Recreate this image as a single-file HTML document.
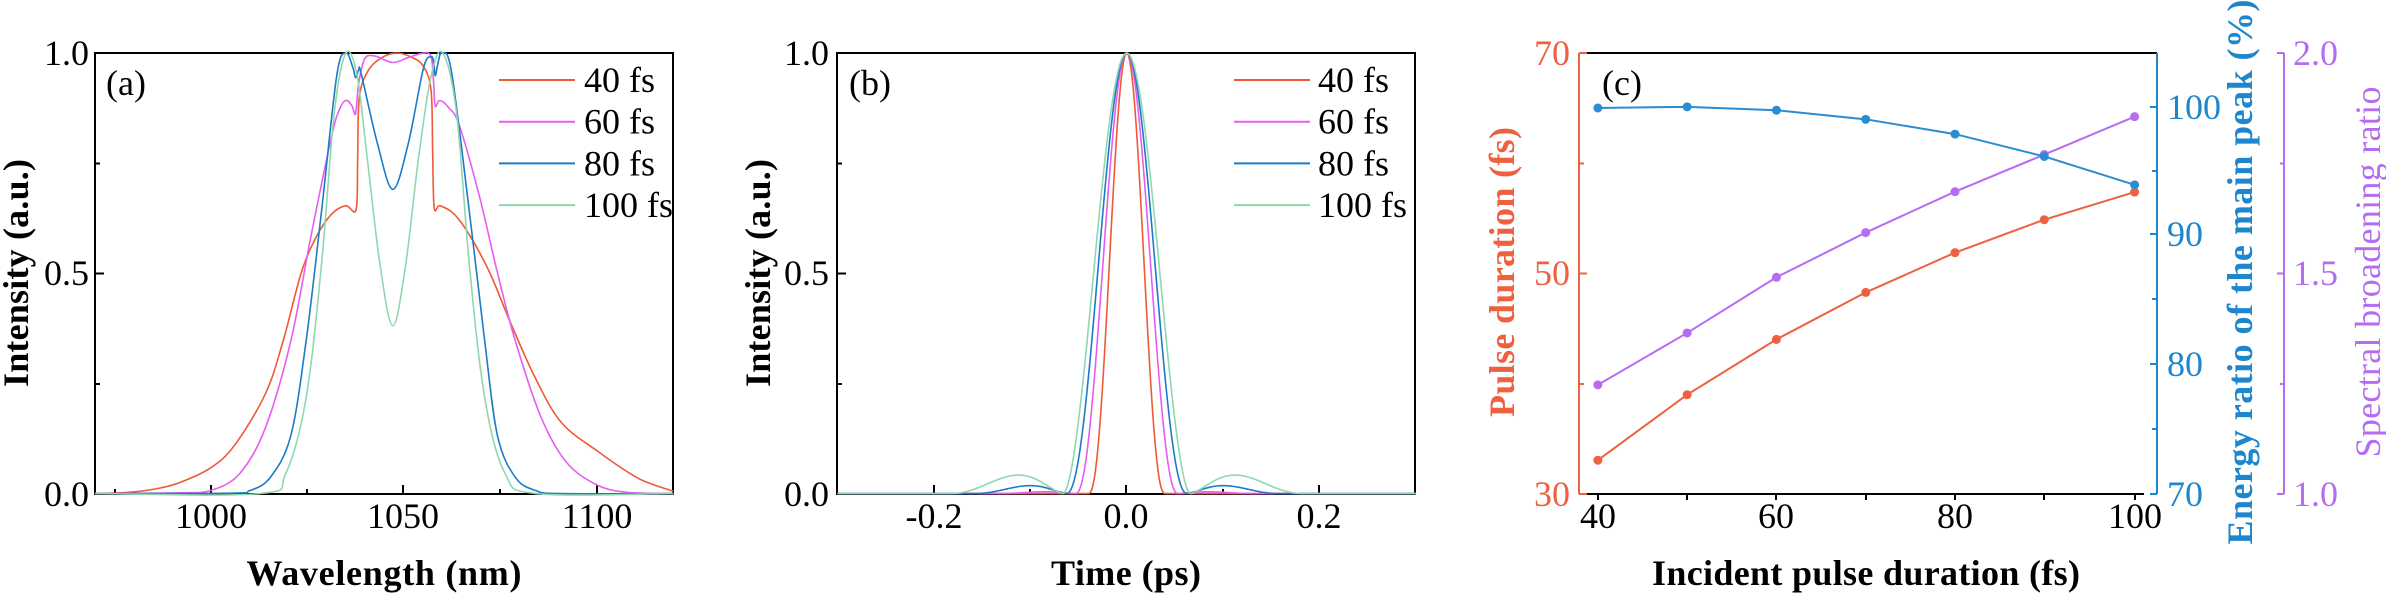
<!DOCTYPE html>
<html><head><meta charset="utf-8"><style>
html,body{margin:0;padding:0;background:#fff}
svg{display:block}
text{font-family:"Liberation Serif",serif}
</style></head><body>
<svg id="s" width="2386" height="594" viewBox="0 0 2386 594" xmlns="http://www.w3.org/2000/svg">
<g font-size="36" fill="#000">
<!-- Panel a -->
<rect x="95" y="53" width="578" height="441" fill="none" stroke="#000" stroke-width="2"/>
<g stroke="#000" stroke-width="2">
<line x1="211" y1="494" x2="211" y2="485"/><line x1="403" y1="494" x2="403" y2="485"/><line x1="597" y1="494" x2="597" y2="485"/>
<line x1="115" y1="494" x2="115" y2="489"/><line x1="307" y1="494" x2="307" y2="489"/><line x1="500" y1="494" x2="500" y2="489"/>
<line x1="95" y1="273.5" x2="104" y2="273.5"/><line x1="95" y1="163.5" x2="100" y2="163.5"/><line x1="95" y1="384" x2="100" y2="384"/>
</g>
<text x="89" y="65" text-anchor="end">1.0</text><text x="89" y="285" text-anchor="end">0.5</text><text x="89" y="506" text-anchor="end">0.0</text>
<text x="211" y="528" text-anchor="middle">1000</text><text x="403" y="528" text-anchor="middle">1050</text><text x="597" y="528" text-anchor="middle">1100</text>
<text x="384" y="585" text-anchor="middle" font-weight="bold" textLength="275">Wavelength (nm)</text>
<text transform="translate(28,273) rotate(-90)" text-anchor="middle" font-weight="bold" textLength="228">Intensity (a.u.)</text>
<text x="106" y="95">(a)</text>
<g id="la"></g>
<!-- Panel b -->
<rect x="837" y="53" width="578" height="441" fill="none" stroke="#000" stroke-width="2"/>
<g stroke="#000" stroke-width="2">
<line x1="934" y1="494" x2="934" y2="485"/><line x1="1126" y1="494" x2="1126" y2="485"/><line x1="1319" y1="494" x2="1319" y2="485"/>
<line x1="1030" y1="494" x2="1030" y2="489"/><line x1="1223" y1="494" x2="1223" y2="489"/>
<line x1="837" y1="273.5" x2="846" y2="273.5"/><line x1="837" y1="163.5" x2="842" y2="163.5"/><line x1="837" y1="384" x2="842" y2="384"/>
</g>
<text x="829" y="65" text-anchor="end">1.0</text><text x="829" y="285" text-anchor="end">0.5</text><text x="829" y="506" text-anchor="end">0.0</text>
<text x="934" y="528" text-anchor="middle">-0.2</text><text x="1126" y="528" text-anchor="middle">0.0</text><text x="1319" y="528" text-anchor="middle">0.2</text>
<text x="1126" y="585" text-anchor="middle" font-weight="bold" textLength="150">Time (ps)</text>
<text transform="translate(770,273) rotate(-90)" text-anchor="middle" font-weight="bold" textLength="228">Intensity (a.u.)</text>
<text x="849" y="95">(b)</text>
<g id="lb"></g>
<!-- Panel c -->
<line x1="1579" y1="53" x2="2157" y2="53" stroke="#000" stroke-width="2"/>
<line x1="1587" y1="494" x2="2144" y2="494" stroke="#000" stroke-width="2"/>
<g stroke="#000" stroke-width="2">
<line x1="1598" y1="494" x2="1598" y2="500"/><line x1="1687" y1="494" x2="1687" y2="500"/><line x1="1776" y1="494" x2="1776" y2="500"/>
<line x1="1866" y1="494" x2="1866" y2="500"/><line x1="1955" y1="494" x2="1955" y2="500"/><line x1="2044" y1="494" x2="2044" y2="500"/><line x1="2135" y1="494" x2="2135" y2="500"/>
</g>
<g stroke="#EE6040" stroke-width="2">
<line x1="1579" y1="53" x2="1579" y2="494"/>
<line x1="1579" y1="53" x2="1587" y2="53"/><line x1="1579" y1="273.5" x2="1587" y2="273.5"/><line x1="1579" y1="494" x2="1587" y2="494"/>
<line x1="1579" y1="163.5" x2="1584" y2="163.5"/><line x1="1579" y1="384" x2="1584" y2="384"/>
</g>
<g fill="#EE6040">
<text x="1570" y="65" text-anchor="end">70</text><text x="1570" y="285" text-anchor="end">50</text><text x="1570" y="506" text-anchor="end">30</text>
<text transform="translate(1514,272) rotate(-90)" text-anchor="middle" font-weight="bold" textLength="290">Pulse duration (fs)</text>
</g>
<g stroke="#1E86CC" stroke-width="2">
<line x1="2157" y1="53" x2="2157" y2="494"/>
<line x1="2150" y1="107" x2="2157" y2="107"/><line x1="2150" y1="234" x2="2157" y2="234"/><line x1="2150" y1="364" x2="2157" y2="364"/><line x1="2150" y1="494" x2="2157" y2="494"/>
<line x1="2152" y1="171" x2="2157" y2="171"/><line x1="2152" y1="299" x2="2157" y2="299"/><line x1="2152" y1="429" x2="2157" y2="429"/>
</g>
<g fill="#1E86CC">
<text x="2167" y="119">100</text><text x="2167" y="246">90</text><text x="2167" y="376">80</text>
<text x="2167" y="506">70</text>
<text transform="translate(2252,272) rotate(-90)" text-anchor="middle" font-weight="bold" textLength="545">Energy ratio of the main peak (%)</text>
</g>
<g stroke="#B56CF2" stroke-width="2">
<line x1="2284" y1="53" x2="2284" y2="494"/>
<line x1="2277" y1="53" x2="2284" y2="53"/><line x1="2277" y1="273.5" x2="2284" y2="273.5"/><line x1="2277" y1="494" x2="2284" y2="494"/>
<line x1="2280" y1="163.5" x2="2284" y2="163.5"/><line x1="2280" y1="384" x2="2284" y2="384"/>
</g>
<g fill="#B56CF2">
<text x="2293" y="65">2.0</text><text x="2293" y="285">1.5</text><text x="2293" y="506">1.0</text>
<text transform="translate(2380,272) rotate(-90)" text-anchor="middle" textLength="371">Spectral broadening ratio</text>
</g>
<text x="1598" y="528" text-anchor="middle">40</text><text x="1776" y="528" text-anchor="middle">60</text><text x="1955" y="528" text-anchor="middle">80</text><text x="2135" y="528" text-anchor="middle">100</text>
<text x="1866" y="585" text-anchor="middle" font-weight="bold" textLength="428">Incident pulse duration (fs)</text>
<text x="1602" y="95">(c)</text>
<g id="lc"></g>
</g>
</svg>
<script>
var NS="http://www.w3.org/2000/svg";
var C=["#EE5A34","#E85CF2","#1C7BC8","#8ED8AE"];
function cr(p){var d="M"+p[0][0]+","+p[0][1];for(var i=0;i<p.length-1;i++){var a=p[i-1]||p[i],b=p[i],c=p[i+1],e=p[i+2]||c;
d+=" C"+(b[0]+(c[0]-a[0])/6)+","+(b[1]+(c[1]-a[1])/6)+" "+(c[0]-(e[0]-b[0])/6)+","+(c[1]-(e[1]-b[1])/6)+" "+c[0]+","+c[1];}return d;}
function path(g,d,col,ox,w){var p=document.createElementNS(NS,"path");p.setAttribute("d",d);p.setAttribute("fill","none");p.setAttribute("stroke",col);
p.setAttribute("stroke-width",w||1.6);p.setAttribute("vector-effect","non-scaling-stroke");p.setAttribute("stroke-linejoin","round");g.appendChild(p);}
function grp(id,ox){var g=document.createElementNS(NS,"g");g.setAttribute("transform","translate("+ox+",0) scale("+(1/1.96)+","+(1/2.64)+")");document.getElementById(id).appendChild(g);return g;}
var A=[
[[186,1303],[250,1300],[300,1292],[350,1275],[413,1235],[460,1175],[520,1040],[555,900],[590,722],[620,625],[650,565],[678,543],[698,553],[701,420],[704,260],[720,190],[745,155],[775,140],[805,150],[830,175],[845,240],[848,400],[851,548],[862,543],[890,565],[920,620],[960,720],[1000,850],[1050,1000],[1100,1115],[1170,1190],[1250,1262],[1320,1297]],
[[186,1303],[350,1301],[413,1295],[470,1250],[520,1130],[570,900],[610,620],[650,360],[665,290],[678,265],[690,280],[697,300],[703,220],[715,155],[735,148],[770,165],[800,152],[830,140],[845,150],[850,220],[853,280],[862,265],[880,285],[900,330],[940,520],[975,720],[1010,900],[1060,1100],[1110,1220],[1170,1280],[1230,1300],[1320,1303]],
[[186,1303],[450,1302],[490,1295],[530,1260],[570,1150],[600,900],[630,560],[660,200],[678,140],[692,180],[697,205],[703,185],[708,195],[740,380],[770,500],[800,380],[830,180],[845,150],[850,165],[853,200],[858,170],[866,140],[885,190],[920,560],[950,900],[975,1150],[1010,1260],[1050,1295],[1100,1303],[1320,1303]],
[[186,1303],[510,1303],[560,1250],[600,1050],[630,700],[655,300],[678,140],[700,200],[720,420],[745,700],[770,860],[795,700],[820,420],[845,200],[868,140],[895,300],[920,700],[950,1050],[990,1250],[1050,1303],[1320,1303]]];
var ga=grp("la",0);A.forEach(function(p,i){path(ga,cr(p),C[i]);});
var P=[[35,75,0,0],[48,100,0.004,150],[57,118,0.018,180],[65,125,0.042,220]];
var gb=grp("lb",790);
P.forEach(function(q,i){var h=q[0],z=q[1],a=q[2],L=q[3];var n=Math.log(0.5)/Math.log(Math.cos(Math.PI*h/(2*z)));var pts=[];
for(var u=-567;u<=567;u+=2){var au=Math.abs(u),v=0;if(au<z)v=Math.pow(Math.cos(Math.PI*au/(2*z)),n);else if(a>0&&au<z+L){var t=(au-z)/L;v=a*Math.pow(Math.sin(Math.PI*Math.pow(t,0.75)),2);}
pts.push((660+u)+","+(1303-v*1163).toFixed(1));}
path(gb,"M"+pts.join(" L"),C[i]);});
[["la",499,584],["lb",1234,1318]].forEach(function(L){var g=document.getElementById(L[0]);["40 fs","60 fs","80 fs","100 fs"].forEach(function(s,i){var y=80+i*41.7;
var l=document.createElementNS(NS,"line");l.setAttribute("x1",L[1]);l.setAttribute("x2",L[1]+76);l.setAttribute("y1",y);l.setAttribute("y2",y);l.setAttribute("stroke",C[i]);l.setAttribute("stroke-width",2);g.appendChild(l);
var t=document.createElementNS(NS,"text");t.setAttribute("x",L[2]);t.setAttribute("y",y+12);t.textContent=s;g.appendChild(t);});});
var xs=[35,210,385,560,735,910,1087];
var D=[["#EE6040",[1215,1042,896,772,667,580,507]],["#B56CF2",[1016,879,732,614,506,408,308]],["#2A8DD4",[285,282,291,315,354,413,488]]];
var gc=document.getElementById("lc");
D.forEach(function(d){var pts=xs.map(function(x,i){return [1580+x/1.96,d[1][i]/2.64];});
var pl=document.createElementNS(NS,"polyline");pl.setAttribute("points",pts.map(function(p){return p.join(",")}).join(" "));pl.setAttribute("fill","none");pl.setAttribute("stroke",d[0]);pl.setAttribute("stroke-width",2);gc.appendChild(pl);
pts.forEach(function(p){var c=document.createElementNS(NS,"circle");c.setAttribute("cx",p[0]);c.setAttribute("cy",p[1]);c.setAttribute("r",4.5);c.setAttribute("fill",d[0]);gc.appendChild(c);});});
</script>
</body></html>
